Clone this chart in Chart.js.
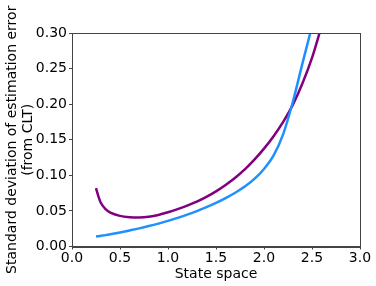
<!DOCTYPE html>
<html>
<head>
<meta charset="utf-8">
<script src="https://cdn.jsdelivr.net/npm/chart.js@4/dist/chart.umd.min.js"></script>
<style>
  html, body { margin: 0; padding: 0; background: #fff; }
  #wrap { width: 376px; height: 286px; }
</style>
</head>
<body>
<div id="wrap"><canvas id="chart" width="376" height="286"></canvas></div>
<script>
// state space positions
const stateX = [0.25, 0.275, 0.3, 0.35, 0.4, 0.5, 0.6, 0.7, 0.8, 0.9, 1.0, 1.1, 1.2, 1.3, 1.4, 1.5,
                1.6, 1.7, 1.8, 1.9, 2.0, 2.1, 2.2, 2.3, 2.4, 2.5, 2.6];
// blue curve
const blueStd = [0.014, 0.0145, 0.015, 0.016, 0.0172, 0.0198, 0.0226, 0.0255, 0.0287, 0.0322, 0.036, 0.0402,
                 0.0448, 0.0498, 0.0553, 0.0613, 0.068, 0.0755, 0.0842, 0.095, 0.109, 0.128, 0.158,
                 0.203, 0.257, 0.31, 0.37];
// purple curve
const purpleStd = [0.082, 0.0705, 0.0615, 0.0525, 0.0475, 0.043, 0.0412, 0.0408, 0.0418, 0.0443, 0.0482, 0.0525,
                   0.0574, 0.063, 0.0697, 0.0775, 0.0865, 0.0966, 0.1083, 0.122, 0.1375, 0.155, 0.175,
                   0.199, 0.229, 0.265, 0.31];
const yTitle = ["Standard deviation of estimation error", "(from CLT)"];
const xTitle = "State space";

const font = { family: "'DejaVu Sans', sans-serif", size: 14 };
const axisColor = "#444";

const frame = {
    id: "frame",
    afterDatasetsDraw(chart) {
        const {ctx, chartArea: a} = chart;
        ctx.save();
        ctx.strokeStyle = axisColor;
        ctx.lineWidth = 1;
        ctx.strokeRect(Math.round(a.left) + 0.5, Math.round(a.top) + 0.5,
                       Math.round(a.right - a.left), Math.round(a.bottom - a.top));
        ctx.restore();
    }
};

new Chart(document.getElementById("chart"), {
    type: "scatter",
    data: {
        datasets: [{
            data: stateX.map((x, i) => ({x: x, y: blueStd[i]})),
            showLine: true,
            borderColor: "#1e90ff",
            borderWidth: 2.5,
            pointRadius: 0,
            cubicInterpolationMode: "monotone",
            clip: 0
        }, {
            data: stateX.map((x, i) => ({x: x, y: purpleStd[i]})),
            showLine: true,
            borderColor: "#800080",
            borderWidth: 2.5,
            pointRadius: 0,
            cubicInterpolationMode: "monotone",
            clip: 0
        }]
    },
    options: {
        responsive: false,
        animation: false,
        layout: { padding: { top: 33, right: 16, left: 0, bottom: 0 } },
        plugins: { legend: { display: false }, tooltip: { enabled: false } },
        scales: {
            x: {
                type: "linear",
                min: 0, max: 3,
                afterFit: (s) => { s.height = 39.5; },
                ticks: {
                    stepSize: 0.5,
                    color: "#000",
                    font: font,
                    padding: 0,
                    maxRotation: 0,
                    callback: (v) => v.toFixed(1)
                },
                grid: { drawOnChartArea: false, tickLength: 3, color: axisColor },
                border: { color: axisColor },
                title: { display: true, text: xTitle, color: "#000", font: font, padding: { top: 0, bottom: 3 } }
            },
            y: {
                min: 0, max: 0.3,
                afterFit: (s) => { s.width = 72; },
                ticks: {
                    stepSize: 0.05,
                    color: "#000",
                    font: font,
                    padding: 2,
                    callback: (v) => v.toFixed(2)
                },
                grid: { drawOnChartArea: false, tickLength: 3, color: axisColor },
                border: { color: axisColor },
                title: { display: true, text: yTitle, color: "#000", font: Object.assign({lineHeight: 1.15}, font), padding: { top: 4, bottom: 0 } }
            }
        }
    },
    plugins: [frame]
});
</script>
</body>
</html>
